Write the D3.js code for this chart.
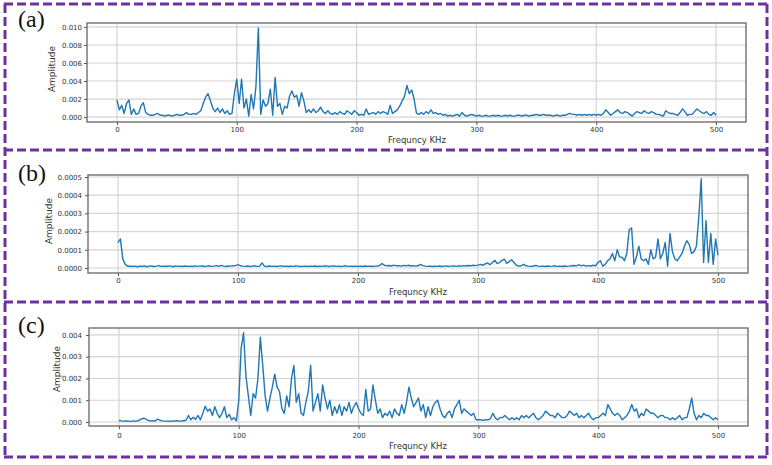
<!DOCTYPE html>
<html><head><meta charset="utf-8">
<script src="https://cdn.jsdelivr.net/npm/d3@7/dist/d3.min.js"></script>
<style>body{margin:0;background:#fff}svg{display:block}</style>
</head><body><svg id="c" width="772" height="465"></svg>
<script>
// ---------- data ----------
const FREQ_STEP_KHZ = 2; // spacing of the samples below (kHz)
const xTicks = [0, 100, 200, 300, 400, 500];
const yTicksA = [0, 0.002, 0.004, 0.006, 0.008, 0.010];
const yTicksB = [0, 0.0001, 0.0002, 0.0003, 0.0004, 0.0005];
const yTicksC = [0, 0.001, 0.002, 0.003, 0.004];
const panelLabels = ["(a)", "(b)", "(c)"];
const xLabel = "Frequncy KHz";
const yLabel = "Amplitude";

const ampA = [
0.0019,0.0008,0.0013,0.0004,0.0015,0.0019,0.0003,0.0009,0.0003,0.0004,
0.0012,0.0016,0.0005,0.0003,0.0002,0.0002,0.0003,0.0004,0.0002,0.0002,
0.0001,0.0002,0.0002,0.0001,0.0002,0.0003,0.0002,0.0002,0.0003,0.0005,
0.0003,0.0003,0.0004,0.0003,0.0005,0.0007,0.0015,0.0022,0.0026,0.0018,
0.0010,0.0006,0.0010,0.0005,0.0009,0.0004,0.0007,0.0003,0.0004,0.0026,
0.0042,0.0015,0.0042,0.0010,0.0020,0.0001,0.0025,0.0009,0.0034,0.0099,
0.0003,0.0019,0.0012,0.0015,0.0031,0.0002,0.0044,0.0012,0.0015,0.0003,
0.0012,0.0010,0.0023,0.0029,0.0022,0.0024,0.0012,0.0027,0.0018,0.0005,
0.0008,0.0005,0.0009,0.0005,0.0007,0.0011,0.0006,0.0004,0.0007,0.0004,
0.0003,0.0005,0.0003,0.0006,0.0004,0.0003,0.0007,0.0005,0.0003,0.0007,
0.0005,0.0002,0.0003,0.0002,0.0009,0.0003,0.0004,0.0005,0.0003,0.0006,
0.0004,0.0006,0.0005,0.0003,0.0013,0.0004,0.0006,0.0008,0.0012,0.0018,
0.0023,0.0035,0.0026,0.0030,0.0020,0.0004,0.0003,0.0005,0.0003,0.0006,
0.0004,0.0008,0.0004,0.0005,0.0003,0.0004,0.0002,0.0003,0.0001,0.0002,
0.0001,0.0002,0.0003,0.0001,0.0005,0.0002,0.0001,0.0002,0.0003,0.0002,
0.0001,0.0002,0.0001,0.0001,0.0002,0.0001,0.0001,0.0002,0.0001,0.0002,
0.0001,0.0001,0.0002,0.0001,0.0002,0.0001,0.0001,0.0002,0.0002,0.0001,
0.0002,0.0002,0.0001,0.0002,0.0002,0.0003,0.0002,0.0002,0.0003,0.0002,
0.0002,0.0002,0.0001,0.0002,0.0002,0.0001,0.0002,0.0002,0.0003,0.0004,
0.0003,0.0003,0.0002,0.0003,0.0002,0.0003,0.0002,0.0003,0.0002,0.0003,
0.0002,0.0003,0.0002,0.0004,0.0008,0.0005,0.0002,0.0004,0.0006,0.0008,
0.0005,0.0004,0.0006,0.0005,0.0003,0.0001,0.0004,0.0006,0.0005,0.0004,
0.0007,0.0005,0.0004,0.0006,0.0005,0.0003,0.0003,0.0002,0.0001,0.0007,
0.0005,0.0004,0.0004,0.0003,0.0002,0.0005,0.0009,0.0006,0.0002,0.0003,
0.0003,0.0006,0.0009,0.0007,0.0005,0.0004,0.0006,0.0003,0.0002,0.0005,
0.0002];

const ampB = [
1.4e-4,1.6e-4,5e-5,2e-5,1e-5,1e-5,8e-6,1e-5,7e-6,1e-5,
8e-6,1.2e-5,7e-6,1e-5,1.1e-5,8e-6,1e-5,1.3e-5,9e-6,1e-5,
8e-6,1.1e-5,1e-5,7e-6,1.2e-5,9e-6,1e-5,8e-6,1.1e-5,9e-6,
1e-5,8e-6,1.2e-5,9e-6,1e-5,1.1e-5,8e-6,1e-5,1.2e-5,9e-6,
1e-5,1.3e-5,9e-6,1.4e-5,1e-5,8e-6,1.1e-5,1e-5,1.2e-5,1.3e-5,
1.8e-5,1.2e-5,1e-5,9e-6,1.1e-5,8e-6,1e-5,1.2e-5,9e-6,1e-5,
2.8e-5,1e-5,8e-6,1.1e-5,9e-6,1e-5,8e-6,1e-5,1.1e-5,9e-6,
1e-5,8e-6,1e-5,9e-6,1.1e-5,1e-5,8e-6,9e-6,1e-5,8e-6,
1e-5,9e-6,1.1e-5,8e-6,1e-5,9e-6,1.2e-5,1e-5,8e-6,1e-5,
1.1e-5,9e-6,1e-5,8e-6,1e-5,1.2e-5,9e-6,1e-5,8e-6,1e-5,
9e-6,1e-5,8e-6,1.1e-5,9e-6,1e-5,8e-6,1e-5,1.1e-5,1.3e-5,
2.5e-5,1.5e-5,1.2e-5,1.4e-5,1.1e-5,1.6e-5,1.2e-5,1.3e-5,1e-5,1.4e-5,
1.2e-5,1.5e-5,1.1e-5,1.3e-5,1e-5,1.2e-5,2e-5,1.3e-5,1e-5,9e-6,
1e-5,8e-6,1e-5,9e-6,1.1e-5,8e-6,1e-5,1.1e-5,9e-6,1e-5,
1.1e-5,9e-6,1.2e-5,1e-5,1.3e-5,1.1e-5,1.4e-5,1.2e-5,1.5e-5,1.3e-5,
1.6e-5,2e-5,1.5e-5,2.2e-5,2.8e-5,1.8e-5,3e-5,4.2e-5,2.5e-5,3e-5,
4.2e-5,4.8e-5,2.5e-5,3.5e-5,4.5e-5,3e-5,1.5e-5,1e-5,1.2e-5,2e-5,
1.2e-5,1e-5,9e-6,1.1e-5,1.4e-5,1e-5,9e-6,1e-5,8e-6,1.1e-5,
9e-6,1e-5,1.2e-5,9e-6,1e-5,8e-6,1.1e-5,9e-6,1e-5,1.2e-5,
1.4e-5,1.1e-5,1.8e-5,1.2e-5,1.6e-5,1e-5,1.3e-5,1.1e-5,1.5e-5,1.2e-5,
3e-5,4e-5,1e-5,2e-5,4e-5,5e-5,8e-5,4e-5,1e-4,6e-5,
6e-5,4e-5,8e-5,2.1e-4,2.2e-4,2e-5,6e-5,1.2e-4,5e-5,4e-5,
5e-5,2e-5,1e-4,5e-5,6e-5,1.6e-4,5e-5,8e-5,1.4e-4,1e-5,
1.9e-4,9e-5,5e-5,4e-5,6e-5,8e-5,1.2e-4,1.5e-4,1.3e-4,8e-5,
9e-5,1.2e-4,2.8e-4,4.9e-4,3e-5,2.6e-4,3e-5,1.9e-4,2e-5,1.6e-4,
7e-5];

const ampC = [
0.00007,0.00005,0.00004,0.00005,0.00004,0.00003,0.00005,0.00004,0.00006,0.00012,
0.00017,0.00015,0.00008,0.00005,0.00006,0.00004,0.00013,0.00009,0.00005,0.00004,
0.00004,0.00003,0.00005,0.00004,0.00006,0.00005,0.00004,0.00006,0.00008,0.0003,
0.0001,0.00022,0.00012,0.0003,0.0001,0.0004,0.00072,0.0005,0.0006,0.0003,
0.0007,0.0004,0.0002,0.0004,0.0007,0.0002,0.00035,0.0001,0.0002,0.00005,
0.0010,0.0034,0.0041,0.0021,0.0012,0.0003,0.0013,0.0011,0.0020,0.0039,
0.0026,0.0012,0.0005,0.0011,0.0016,0.0022,0.0016,0.0014,0.0006,0.0004,
0.0012,0.0007,0.0020,0.0026,0.0009,0.0013,0.0004,0.0003,0.0009,0.0014,
0.0026,0.0005,0.0009,0.0013,0.0005,0.0017,0.0011,0.0006,0.0010,0.0003,
0.0007,0.0004,0.0008,0.0003,0.0007,0.0005,0.0009,0.0004,0.0007,0.0009,
0.0006,0.0004,0.0003,0.0015,0.0005,0.0006,0.0017,0.0010,0.0004,0.0006,
0.0002,0.0004,0.0003,0.0005,0.0002,0.0006,0.0004,0.0003,0.0008,0.0004,
0.0009,0.0016,0.0011,0.0007,0.0009,0.0011,0.0005,0.0008,0.0002,0.0007,
0.0003,0.0007,0.0009,0.0010,0.0006,0.0003,0.0002,0.0004,0.0005,0.0002,
0.0006,0.0008,0.0010,0.0004,0.0006,0.0005,0.0004,0.0003,0.0004,0.0001,
0.0001,0.0001,0.00008,0.0001,0.0001,0.00015,0.0004,0.0002,0.0001,0.0002,
0.0002,0.0003,0.0002,0.0001,0.0002,0.0001,0.0002,0.0001,0.0003,0.0002,
0.0003,0.0002,0.0003,0.0004,0.0002,0.0001,0.0002,0.0003,0.0005,0.0004,
0.0003,0.0003,0.0002,0.0004,0.0003,0.0002,0.0002,0.0003,0.0005,0.0004,
0.0003,0.0004,0.0002,0.0003,0.0002,0.0003,0.0004,0.0002,0.0001,0.0002,
0.0002,0.0003,0.0004,0.0003,0.0008,0.0006,0.0004,0.0003,0.0004,0.0003,
0.0001,0.0002,0.0003,0.0005,0.0008,0.0005,0.0006,0.0002,0.0004,0.0003,
0.0006,0.0005,0.0004,0.0004,0.0003,0.0002,0.0003,0.0003,0.0002,0.0002,
0.0001,0.0002,0.0001,0.0002,0.0003,0.0001,0.0002,0.0002,0.0006,0.0011,
0.0004,0.0001,0.0003,0.0002,0.0004,0.0003,0.0003,0.0002,0.0001,0.0002,
0.0001];

// ---------- layout ----------
const panels = [
  {label: panelLabels[0], data: ampA, yTicks: yTicksA, fmt: d3.format(".3f"),
   box: {x0: 87, x1: 746, y0: 23, y1: 122}, yDomain: [-0.00055, 0.01044],
   lab: [18, 27], ylab: [52, 69], xlab: [417, 140], tickY: 129.5},
  {label: panelLabels[1], data: ampB, yTicks: yTicksB, fmt: d3.format(".4f"),
   box: {x0: 88, x1: 748, y0: 175, y1: 273}, yDomain: [-0.0000275, 0.000511],
   lab: [18, 181], ylab: [49, 221], xlab: [418, 291.5], tickY: 281},
  {label: panelLabels[2], data: ampC, yTicks: yTicksC, fmt: d3.format(".3f"),
   box: {x0: 89, x1: 748, y0: 328, y1: 426}, yDomain: [-0.000184, 0.00432],
   lab: [18, 333], ylab: [57, 369], xlab: [418, 445.5], tickY: 435.5}
];

const svg = d3.select("#c");
const FONT = "DejaVu Sans, sans-serif";

// dashed purple frames
const frame = svg.append("g").attr("stroke", "#7030A0").attr("stroke-width", 3)
  .attr("stroke-dasharray", "9,4").attr("fill", "none");
[4, 150, 302, 457].forEach(y => frame.append("line").attr("x1", 4).attr("x2", 768).attr("y1", y).attr("y2", y));
[5, 767].forEach(x => frame.append("line").attr("x1", x).attr("x2", x).attr("y1", 4).attr("y2", 457));

panels.forEach((p, i) => {
  const b = p.box;
  const x = d3.scaleLinear().domain([-25, 525]).range([b.x0, b.x1]);
  const y = d3.scaleLinear().domain(p.yDomain).range([b.y1, b.y0]);
  const g = svg.append("g");

  // grid
  g.append("g").selectAll("line").data(xTicks).join("line")
    .attr("x1", d => x(d)).attr("x2", d => x(d)).attr("y1", b.y0).attr("y2", b.y1)
    .attr("stroke", "#d4d4d4").attr("stroke-width", 1.2);
  g.append("g").selectAll("line").data(p.yTicks).join("line")
    .attr("x1", b.x0).attr("x2", b.x1).attr("y1", d => y(d)).attr("y2", d => y(d))
    .attr("stroke", "#d4d4d4").attr("stroke-width", 1.2);

  // clip + line
  const cid = "clip" + i;
  svg.append("clipPath").attr("id", cid).append("rect")
    .attr("x", b.x0).attr("y", b.y0).attr("width", b.x1 - b.x0).attr("height", b.y1 - b.y0);
  const line = d3.line().x((d, k) => x(k * FREQ_STEP_KHZ)).y(d => y(d));
  g.append("path").datum(p.data).attr("d", line).attr("clip-path", `url(#${cid})`)
    .attr("fill", "none").attr("stroke", "#1f77b4").attr("stroke-width", 1.4)
    .attr("stroke-linejoin", "round");

  // axes
  const xa = g.append("g").attr("transform", `translate(0,${b.y1})`)
    .call(d3.axisBottom(x).tickValues(xTicks).tickSize(3).tickFormat(d3.format("d")));
  xa.select(".domain").remove();
  xa.selectAll("text").attr("dy", null).attr("y", p.tickY - b.y1).attr("dominant-baseline", "central");
  const ya = g.append("g").attr("transform", `translate(${b.x0},0)`)
    .call(d3.axisLeft(y).tickValues(p.yTicks).tickSize(3).tickFormat(p.fmt));
  ya.select(".domain").remove();
  ya.selectAll("text").attr("x", 82 - b.x0);
  [xa, ya].forEach(a => {
    a.selectAll("text").attr("font-family", FONT).attr("font-size", 7).attr("fill", "#333");
    a.selectAll(".tick line").attr("stroke", "#555");
  });

  // spines
  g.append("rect").attr("x", b.x0).attr("y", b.y0).attr("width", b.x1 - b.x0).attr("height", b.y1 - b.y0)
    .attr("fill", "none").attr("stroke", "#666").attr("stroke-width", 1.3);

  // labels
  g.append("text").attr("x", p.xlab[0]).attr("y", p.xlab[1]).attr("text-anchor", "middle")
    .attr("dominant-baseline", "central").attr("font-family", FONT).attr("font-size", 8.5)
    .attr("fill", "#333").text(xLabel);
  g.append("text").attr("transform", `translate(${p.ylab[0]},${p.ylab[1]}) rotate(-90)`)
    .attr("text-anchor", "middle").attr("dominant-baseline", "central")
    .attr("font-family", FONT).attr("font-size", 9).attr("fill", "#333").text(yLabel);
  g.append("text").attr("x", p.lab[0]).attr("y", p.lab[1])
    .attr("font-family", "Liberation Serif, Times New Roman, serif").attr("font-size", 24)
    .attr("fill", "#111").text(p.label);
});
</script></body></html>
